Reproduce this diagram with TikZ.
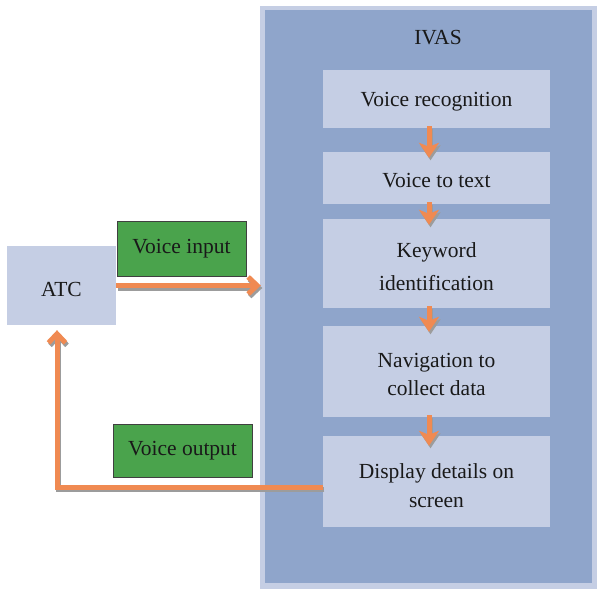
\documentclass[tikz,border=0pt]{standalone}
\usepackage{fontspec}
\setmainfont{Liberation Serif}
\usetikzlibrary{arrows.meta}
\definecolor{ivasdark}{HTML}{8FA5CB}
\definecolor{ivaslight}{HTML}{C5CEE4}
\definecolor{arrorange}{HTML}{F08A52}
\definecolor{boxgreen}{HTML}{4AA34C}
\definecolor{shadowgray}{HTML}{9C9C9C}
\tikzset{
  txt/.style={font=\fontsize{21.5}{30}\selectfont, align=center, text=black!90},
  stepbox/.style={fill=ivaslight, minimum width=227pt, inner sep=0pt},
  steptext/.style={txt, yshift=-3pt},
  greenbox/.style={txt, fill=boxgreen, draw=black!75, line width=1pt, inner sep=0pt},
  shadowcopy/.style={draw=shadowgray, transform canvas={xshift=1.5pt,yshift=-2.5pt}},
  bigarr/.style={line width=5pt, -{Straight Barb[length=9pt,width=17pt,line width=5pt]}},
  downarr/.style={line width=5pt, -{Stealth[length=15pt,width=20pt,inset=4pt]}}
}
\begin{document}
\begin{tikzpicture}[x=1pt,y=-1pt]
\useasboundingbox (0,0) rectangle (597,589);
\fill[white] (0,0) rectangle (597,589);
% IVAS container
\node[fill=ivaslight, minimum width=337pt, minimum height=583pt, inner sep=0pt] (ivasout) at (428.5,297.5) {};
\node[fill=ivasdark, minimum width=327pt, minimum height=573pt, inner sep=0pt] (ivasin) at (428.5,296.5) {};
\node[txt] (ivas) at (438,38) {IVAS};
% steps
\node[stepbox, minimum height=58pt, label={[steptext, name=vrt]center:Voice recognition}] (vr) at (436.5,99) {};
\node[stepbox, minimum height=52pt, label={[steptext, name=vtt]center:Voice to text}] (vt) at (436.5,178) {};
\node[stepbox, minimum height=89pt, label={[steptext, name=kwt, font=\fontsize{21.5}{33}\selectfont]center:Keyword\\identification}] (kw) at (436.5,263.5) {};
\node[stepbox, minimum height=91pt, label={[steptext, name=navt, font=\fontsize{21.5}{28.5}\selectfont]center:Navigation to\\collect data}] (nav) at (436.5,371.5) {};
\node[stepbox, minimum height=91pt, label={[steptext, name=dispt, font=\fontsize{21.5}{29}\selectfont, yshift=-1pt]center:Display details on\\screen}] (disp) at (436.5,481.5) {};
% ATC and labels
\node[fill=ivaslight, minimum width=109pt, minimum height=79pt, inner sep=0pt, label={[txt, name=atct, yshift=-4pt]center:ATC}] (atc) at (61.5,285.5) {};
\node[greenbox, minimum width=129pt, minimum height=55pt] (vin) at (181.5,248.5) {Voice input};
\node[greenbox, minimum width=139pt, minimum height=53pt] (vout) at (182.5,450.5) {Voice output};
% down arrows (shadow, then orange)
\foreach \a/\b/\e in {vr/vt/6, vt/kw/6, kw/nav/6, nav/disp/10}{
  \draw[downarr, shadowcopy] ([xshift=-7.5pt,yshift=2pt]\a.south) -- ([xshift=-7.5pt,yshift=-\e pt]\b.north);
  \draw[downarr, draw=arrorange] ([xshift=-7.5pt,yshift=2pt]\a.south) -- ([xshift=-7.5pt,yshift=-\e pt]\b.north);
}
% input / output arrows
\draw[bigarr, shadowcopy] (atc.east) -- ([xshift=1pt]ivasout.west |- atc.east);
\draw[bigarr, draw=arrorange] (atc.east) -- ([xshift=1pt]ivasout.west |- atc.east);
\draw[bigarr, shadowcopy] ([yshift=-5.5pt]disp.west) -| ([xshift=-4.5pt,yshift=-5pt]atc.south);
\draw[bigarr, draw=arrorange] ([yshift=-5.5pt]disp.west) -| ([xshift=-4.5pt,yshift=-5pt]atc.south);
\end{tikzpicture}
\end{document}
